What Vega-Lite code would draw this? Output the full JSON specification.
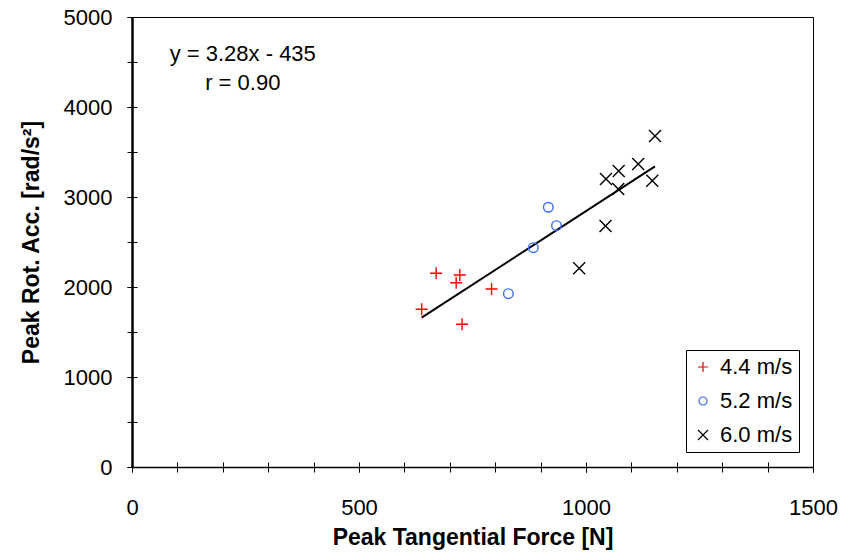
{
  "$schema": "https://vega.github.io/schema/vega-lite/v6.json",
  "width": 681,
  "height": 450,
  "autosize": {"type": "none"},
  "padding": {"left": 132, "top": 17, "right": 28, "bottom": 88},
  "background": "white",
  "config": {
    "font": "Liberation Sans",
    "view": {"stroke": "#000", "strokeWidth": 1},
    "axis": {"grid": false, "domainColor": "#000", "tickColor": "#000", "labelColor": "#000", "titleColor": "#000", "labelFont": "Liberation Sans", "titleFont": "Liberation Sans"}
  },
  "datasets": {
    "pts": [
      {"force": 638, "acc": 1752, "speed": "4.4 m/s"},
      {"force": 670, "acc": 2152, "speed": "4.4 m/s"},
      {"force": 722, "acc": 2133, "speed": "4.4 m/s"},
      {"force": 714, "acc": 2048, "speed": "4.4 m/s"},
      {"force": 792, "acc": 1978, "speed": "4.4 m/s"},
      {"force": 727, "acc": 1586, "speed": "4.4 m/s"},
      {"force": 917, "acc": 2886, "speed": "5.2 m/s"},
      {"force": 935, "acc": 2681, "speed": "5.2 m/s"},
      {"force": 884, "acc": 2437, "speed": "5.2 m/s"},
      {"force": 829, "acc": 1926, "speed": "5.2 m/s"},
      {"force": 1152, "acc": 3678, "speed": "6.0 m/s"},
      {"force": 1115, "acc": 3367, "speed": "6.0 m/s"},
      {"force": 1072, "acc": 3289, "speed": "6.0 m/s"},
      {"force": 1044, "acc": 3200, "speed": "6.0 m/s"},
      {"force": 1071, "acc": 3089, "speed": "6.0 m/s"},
      {"force": 1146, "acc": 3181, "speed": "6.0 m/s"},
      {"force": 1043, "acc": 2678, "speed": "6.0 m/s"},
      {"force": 985, "acc": 2208, "speed": "6.0 m/s"}
    ],
    "fit": [
      {"force": 638, "acc": 1660},
      {"force": 1152, "acc": 3340}
    ],
    "ann": [
      {"force": 244, "acc": 4589, "label": "y = 3.28x - 435"},
      {"force": 244, "acc": 4267, "label": "r = 0.90"}
    ]
  },
  "resolve": {"axis": {"x": "independent", "y": "independent"}},
  "layer": [
    {
      "data": {"name": "fit"},
      "mark": {"type": "line", "color": "#000", "strokeWidth": 2},
      "encoding": {
        "x": {
          "field": "force", "type": "quantitative",
          "scale": {"domain": [0, 1500], "nice": false, "zero": false},
          "axis": {
            "orient": "bottom",
            "values": [0, 500, 1000, 1500],
            "format": "d",
            "tickSize": 5, "labelFontSize": 22, "labelPadding": 25, "labelFlush": false, "labelOverlap": false,
            "domainWidth": 1.5,
            "title": "Peak Tangential Force [N]", "titleFontSize": 23, "titleFontWeight": "bold", "titlePadding": 8
          }
        },
        "y": {
          "field": "acc", "type": "quantitative",
          "scale": {"domain": [0, 5000], "nice": false, "zero": false},
          "axis": {
            "orient": "left",
            "values": [0, 1000, 2000, 3000, 4000, 5000],
            "format": "d",
            "tickSize": 5, "labelFontSize": 22, "labelPadding": 15, "labelFlush": false, "labelOverlap": false,
            "domainWidth": 2.5,
            "title": "Peak Rot. Acc. [rad/s²]", "titleFontSize": 23, "titleFontWeight": "bold", "titlePadding": 20
          }
        }
      }
    },
    {
      "data": {"name": "pts"},
      "mark": {"type": "point", "filled": false, "strokeWidth": 1.4, "size": 144, "opacity": 1},
      "encoding": {
        "x": {
          "field": "force", "type": "quantitative",
          "scale": {"domain": [0, 1500], "nice": false, "zero": false},
          "axis": {
            "orient": "bottom",
            "values": [0, 100, 200, 300, 400, 500, 600, 700, 800, 900, 1000, 1100, 1200, 1300, 1400, 1500],
            "offset": -5, "tickSize": 10, "labels": false, "domain": false, "title": null
          }
        },
        "y": {
          "field": "acc", "type": "quantitative",
          "scale": {"domain": [0, 5000], "nice": false, "zero": false},
          "axis": {
            "orient": "left",
            "values": [0, 500, 1000, 1500, 2000, 2500, 3000, 3500, 4000, 4500, 5000],
            "offset": -5, "tickSize": 10, "labels": false, "domain": false, "title": null
          }
        },
        "color": {
          "field": "speed", "type": "nominal",
          "scale": {"domain": ["4.4 m/s", "5.2 m/s", "6.0 m/s"], "range": ["#ff0000", "#3b6cf0", "#000000"]},
          "legend": {"title": null, "orient": "none", "legendX": 554, "legendY": 333, "strokeColor": "#000", "fillColor": "#fff", "padding": 6, "labelFontSize": 22, "labelColor": "#000", "symbolSize": 100, "symbolStrokeWidth": 1.2, "rowPadding": 12, "labelOffset": 6}
        },
        "shape": {
          "field": "speed", "type": "nominal",
          "scale": {"domain": ["4.4 m/s", "5.2 m/s", "6.0 m/s"], "range": ["M-1,0L1,0M0,-1L0,1", "M-0.8,0A0.8,0.8 0 1,0 0.8,0A0.8,0.8 0 1,0 -0.8,0", "M-1,-1L1,1M-1,1L1,-1"]},
          "legend": {"title": null, "orient": "none", "legendX": 554, "legendY": 333, "strokeColor": "#000", "fillColor": "#fff", "padding": 6, "labelFontSize": 22, "labelColor": "#000", "symbolSize": 100, "symbolStrokeWidth": 1.2, "rowPadding": 12, "labelOffset": 6}
        }
      }
    },
    {
      "data": {"name": "ann"},
      "mark": {"type": "text", "fontSize": 22, "align": "center", "baseline": "middle", "color": "#000"},
      "encoding": {
        "x": {"field": "force", "type": "quantitative", "scale": {"domain": [0, 1500], "nice": false, "zero": false}, "axis": null},
        "y": {"field": "acc", "type": "quantitative", "scale": {"domain": [0, 5000], "nice": false, "zero": false}, "axis": null},
        "text": {"field": "label", "type": "nominal"}
      }
    }
  ]
}
